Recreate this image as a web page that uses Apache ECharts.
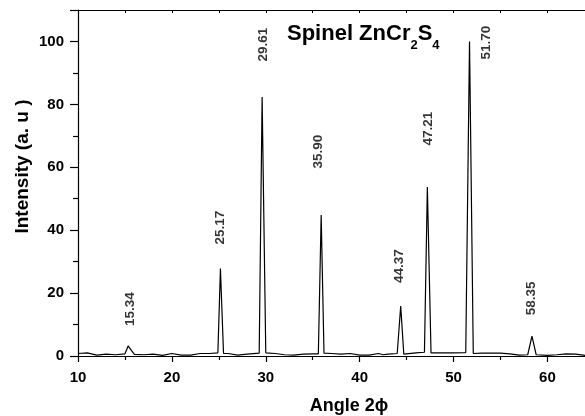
<!DOCTYPE html>
<html>
<head>
<meta charset="utf-8">
<script src="https://cdn.jsdelivr.net/npm/echarts@6/dist/echarts.min.js"></script>
<style>html,body{margin:0;padding:0;background:#fff}#c{width:585px;height:416px}</style>
</head>
<body>
<div id="c"></div>
<script>
// XRD pattern (angle 2phi vs intensity)
const angles = [10, 11, 12, 13, 14, 15, 15.34, 16, 17, 18, 19, 20, 21, 22, 23, 24, 24.9, 25.17, 25.5, 26, 27, 28, 29.3, 29.61, 30, 31, 32, 33, 34, 35, 35.6, 35.9, 36.2, 37, 38, 39, 40, 41, 42, 42.5, 43, 44, 44.37, 44.7, 46, 46.9, 47.21, 47.6, 49, 50, 51.3, 51.7, 52.1, 53, 55, 56, 57, 57.9, 58.35, 58.8, 60, 61, 62, 63, 64];
const intensity = [0.8, 1.0, 0.3, 0.6, 0.4, 0.7, 3.2, 0.5, 0.4, 0.6, 0.2, 0.8, 0.3, 0.3, 0.8, 0.8, 1.0, 27.8, 0.8, 0.8, 0.3, 0.6, 0.9, 82.3, 1.0, 0.8, 0.4, 0.3, 0.6, 0.7, 0.7, 44.8, 0.9, 0.8, 0.6, 0.8, 0.3, 0.3, 0.8, 0.4, 0.6, 0.8, 15.9, 0.6, 1.0, 1.2, 53.7, 1.0, 1.0, 1.0, 1.1, 100.0, 0.8, 0.9, 0.9, 0.7, 0.3, 0.4, 6.3, 0.4, 0.2, 0.4, 0.7, 0.6, 0.2];
// peak annotations: label text and where it sits (data units)
const peakLabels = ['15.34', '25.17', '29.61', '35.90', '44.37', '47.21', '51.70', '58.35'];
const peakLabelX = [15.52, 25.15, 29.73, 35.54, 44.22, 47.3, 53.48, 58.27];
const peakLabelY = [14.9, 40.8, 99.0, 65.0, 28.6, 72.3, 99.6, 18.3];
const xTickLabels = [10, 20, 30, 40, 50, 60];
const yTickLabels = [0, 20, 40, 60, 80, 100];

const chart = echarts.init(document.getElementById('c'), null, {renderer: 'canvas'});
const F = 'Liberation Sans, Arial, sans-serif';
const lineData = angles.map((a, i) => [a, intensity[i]]);
const labelData = peakLabels.map((t, i) => ({name: t, value: [peakLabelX[i], peakLabelY[i]]}));

chart.setOption({
  animation: false,
  backgroundColor: '#fff',
  grid: {left: 78, right: 0, top: 10, bottom: 60},
  xAxis: [{
    type: 'value', min: 10, max: 64, interval: 10, offset: 1,
    axisLine: {show: true, lineStyle: {color: '#000', width: 1.2}},
    axisTick: {show: true, length: 6, lineStyle: {color: '#000', width: 1.2},
      customValues: xTickLabels},
    minorTick: {show: true, splitNumber: 2, length: 4, lineStyle: {color: '#000', width: 1.2}},
    axisLabel: {color: '#000', fontFamily: F, fontWeight: 'bold', fontSize: 15, margin: 13,
      customValues: xTickLabels},
    splitLine: {show: false}
  }, {
    type: 'value', position: 'top', min: 10, max: 64, interval: 5,
    axisLine: {show: true, lineStyle: {color: '#000', width: 1.2}},
    axisTick: {show: true, inside: true, length: 3, lineStyle: {color: '#000', width: 1}},
    axisLabel: {show: false},
    splitLine: {show: false}
  }],
  yAxis: {
    type: 'value', min: 0, max: 110, interval: 20,
    axisLine: {show: true, lineStyle: {color: '#000', width: 1.2}},
    axisTick: {show: true, length: 8, lineStyle: {color: '#000', width: 1.2}},
    minorTick: {show: true, splitNumber: 2, length: 5, lineStyle: {color: '#000', width: 1.2}},
    axisLabel: {color: '#000', fontFamily: F, fontWeight: 'bold', fontSize: 15, margin: 14,
      customValues: yTickLabels},
    splitLine: {show: false}
  },
  graphic: [
    {type: 'text', left: 287, top: 23, style: {
      text: '{t|Spinel ZnCr}{s|2}{t|S}{s|4}',
      rich: {
        t: {fontFamily: F, fontWeight: 'bold', fontSize: 22, lineHeight: 22, verticalAlign: 'top', fill: '#000'},
        s: {fontFamily: F, fontWeight: 'bold', fontSize: 13, lineHeight: 44, fill: '#000'}
      }}},
    {type: 'text', x: 22.5, y: 166.5, rotation: Math.PI / 2, style: {
      text: 'Intensity (a. u )', fontFamily: F, fontWeight: 'bold', fontSize: 19, fill: '#000',
      align: 'center', verticalAlign: 'middle'}},
    {type: 'text', x: 349, y: 406, style: {
      text: 'Angle 2\u03d5', fontFamily: F, fontWeight: 'bold', fontSize: 18, fill: '#000',
      align: 'center', verticalAlign: 'middle'}}
  ],
  series: [{
    type: 'line', data: lineData, showSymbol: false, symbol: 'none',
    lineStyle: {color: '#000', width: 1.2}, z: 3
  }, {
    type: 'scatter', data: labelData, symbolSize: 0, silent: true,
    label: {show: true, position: 'inside', rotate: 90, formatter: p => p.name,
      color: '#000', fontFamily: F, fontWeight: 'bold', fontSize: 13.5}
  }]
});
</script>
</body>
</html>
